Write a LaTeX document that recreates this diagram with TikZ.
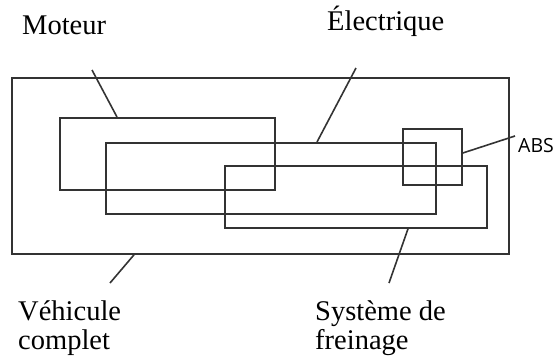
\documentclass[tikz,border=0pt]{standalone}
\usepackage{fontspec}
\setmainfont{Liberation Serif}
\newfontfamily\absfont{Open Sans}
\definecolor{boxgray}{HTML}{333333}
\tikzset{
  part/.style={draw=boxgray, line width=1.8pt, anchor=north west, inner sep=0pt},
  leader/.style={draw=boxgray, line width=1.6pt},
  label/.style={anchor=base west, inner sep=0pt, align=left,
    font=\fontsize{28.5}{29}\selectfont}
}
\begin{document}
\begin{tikzpicture}[x=1pt, y=-1pt]
  \useasboundingbox (0,0) rectangle (557,360);

  % Boxes (image coordinates, y downwards)
  \node[part, minimum width=497pt, minimum height=176pt] (vehicule) at (11,77) {};
  \node[part, minimum width=215pt, minimum height=72pt] (moteur) at (59,117) {};
  \node[part, minimum width=330pt, minimum height=71pt] (electrique) at (105,142) {};
  \node[part, minimum width=262pt, minimum height=62pt] (freinage) at (224,165) {};
  \node[part, minimum width=59pt, minimum height=56pt] (abs) at (402,128) {};

  % Labels (two-line labels sit on the baseline of their last line)
  \node[label] (moteurlbl) at (22,34) {Moteur};
  \node[label] (electriquelbl) at (327,30) {Électrique};
  \node[label] (vehiculelbl) at (18,349) {Véhicule\\complet};
  \node[label] (freinagelbl) at (315,349) {Système de\\freinage};
  \node[anchor=base west, inner sep=0pt, font=\absfont\fontsize{19.5}{21}\selectfont] (abslbl) at (518,152.7) {ABS};

  % Free ends of the leader lines
  \coordinate (moteurend) at (92,70);
  \coordinate (electriqueend) at (356,68);
  \coordinate (absend) at (515,136);
  \coordinate (vehiculeend) at (110,283);
  \coordinate (freinageend) at (389,283);

  % Leader lines
  \draw[leader] (moteur.north west) ++(58,0) -- (moteurend);
  \draw[leader] (electrique.north west) ++(212,0) -- (electriqueend);
  \draw[leader] (abs.north east) ++(0,25) -- (absend);
  \draw[leader] (vehicule.south west) ++(123,0) -- (vehiculeend);
  \draw[leader] (freinage.south west) ++(184,0) -- (freinageend);
\end{tikzpicture}
\end{document}
